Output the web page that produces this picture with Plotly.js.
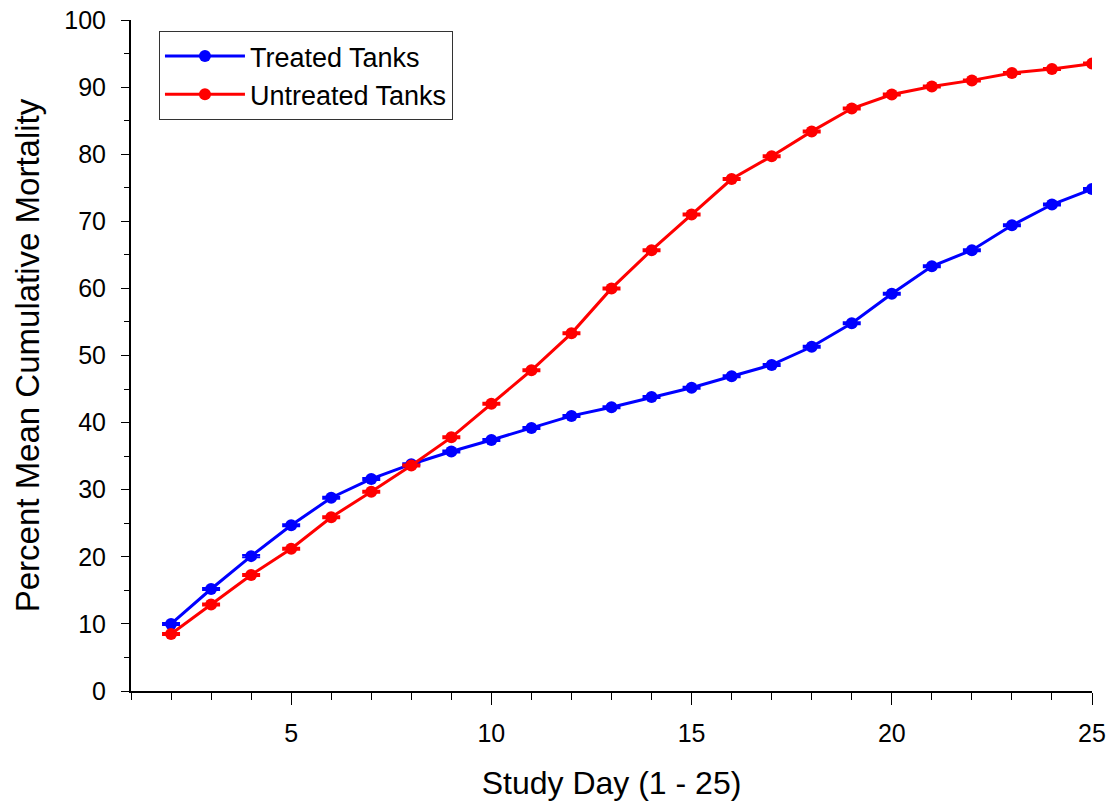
<!DOCTYPE html>
<html>
<head>
<meta charset="utf-8">
<script src="https://cdn.plot.ly/plotly-3.0.1.min.js"></script>
<style>html,body{margin:0;padding:0;background:#fff;}#chart{width:1113px;height:809px;}</style>
</head>
<body>
<div id="chart"></div>
<script>
const days = [2,3,4,5,6,7,8,9,10,11,12,13,14,15,16,17,18,19,20,21,22,23,24,25];
const treated = [10.0,15.2,20.1,24.7,28.8,31.6,33.8,35.7,37.4,39.2,41.0,42.3,43.8,45.2,46.9,48.6,51.3,54.8,59.2,63.3,65.7,69.4,72.5,74.8];
const untreated = [8.5,12.9,17.3,21.2,25.9,29.7,33.6,37.8,42.8,47.8,53.3,60.0,65.7,71.0,76.3,79.7,83.4,86.8,88.9,90.1,91.0,92.1,92.7,93.5];
const treatedErr = [0.15,0.15,0.15,0.15,0.15,0.15,0.15,0.15,0.15,0.15,0.15,0.15,0.15,0.15,0.15,0.15,0.15,0.15,0.15,0.15,0.15,0.15,0.15,0.15];
const untreatedErr = [0.15,0.15,0.15,0.15,0.15,0.15,0.15,0.15,0.15,0.15,0.15,0.15,0.15,0.15,0.15,0.15,0.15,0.15,0.15,0.15,0.15,0.15,0.15,0.15];
const seriesNames = ['Treated Tanks','Untreated Tanks'];

const font = 'Liberation Sans, Arial, sans-serif';
const traces = [
  {x: days, y: treated, name: seriesNames[0], type: 'scatter', mode: 'lines+markers',
   line: {color: '#0000ff', width: 3}, marker: {color: '#0000ff', size: 12},
   error_y: {type: 'data', array: treatedErr, visible: true, color: '#0000ff', thickness: 2, width: 9}},
  {x: days, y: untreated, name: seriesNames[1], type: 'scatter', mode: 'lines+markers',
   line: {color: '#ff0000', width: 3}, marker: {color: '#ff0000', size: 12},
   error_y: {type: 'data', array: untreatedErr, visible: true, color: '#ff0000', thickness: 2, width: 9}}
];

const layout = {
  width: 1113, height: 809,
  margin: {l: 131, r: 21, t: 20, b: 118},
  paper_bgcolor: '#fff', plot_bgcolor: '#fff',
  font: {family: font, color: '#000'},
  showlegend: true,
  legend: {x: 0.0291, y: 0.9836, xanchor: 'left', yanchor: 'top',
    bordercolor: '#333', borderwidth: 1, bgcolor: '#fff', itemwidth: 80, entrywidth: 212,
    font: {family: font, size: 27, color: '#000'}, tracegroupgap: 0},
  xaxis: {range: [1, 25], showgrid: false, zeroline: false, showline: true, linecolor: '#000', linewidth: 2,
    ticks: 'outside', ticklen: 12, tickwidth: 1, tickcolor: '#000', tickmode: 'linear', tick0: 5, dtick: 5,
    tickfont: {family: font, size: 25, color: '#000'}, ticklabelstandoff: 7,
    minor: {ticks: 'outside', ticklen: 7, tickwidth: 1, tickcolor: '#000', dtick: 1, tick0: 0, showgrid: false},
    title: {text: 'Study Day (1 - 25)', font: {family: font, size: 32, color: '#000'}, standoff: 26}},
  yaxis: {range: [0, 100], showgrid: false, zeroline: false, showline: true, linecolor: '#000', linewidth: 2,
    ticks: 'outside', ticklen: 8, tickwidth: 1, tickcolor: '#000', tickmode: 'linear', tick0: 0, dtick: 10,
    tickfont: {family: font, size: 25, color: '#000'}, ticklabelstandoff: 10,
    minor: {ticks: 'outside', ticklen: 5, tickwidth: 1, tickcolor: '#000', dtick: 5, showgrid: false},
    title: {text: 'Percent Mean Cumulative Mortality', font: {family: font, size: 33, color: '#000'}, standoff: 15}}
};

Plotly.newPlot('chart', traces, layout, {displayModeBar: false, staticPlot: true});
</script>
</body>
</html>
